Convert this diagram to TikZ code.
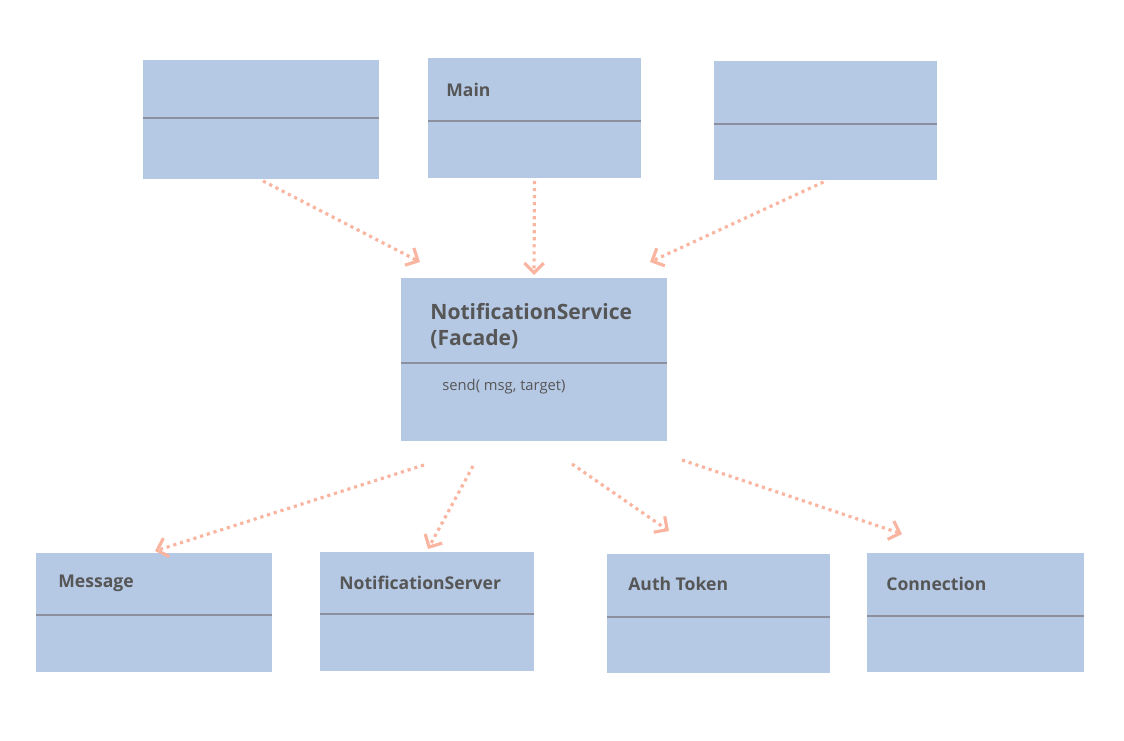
\documentclass[tikz,border=0pt]{standalone}
\usepackage{fontspec}
\setmainfont{Open Sans}
\usetikzlibrary{arrows.meta,calc}

\definecolor{classfill}{HTML}{B5C9E5}
\definecolor{classline}{HTML}{8B8F9E}
\definecolor{linkcolor}{HTML}{FAB5A1}
\definecolor{labelgray}{HTML}{565656}

% box with a divider line: name, x, y, width, height, divider
\newcommand{\classbox}[6]{%
  \node[classbody, minimum width=#4*0.02cm, minimum height=#5*0.02cm] (#1) at (#2,#3) {};
  \draw[classdivider] ($(#1.north west)+(0,#6)$) -- ($(#1.north east)+(0,#6)$);
}

\begin{document}
\begin{tikzpicture}[x=0.02cm, y=-0.02cm,
    classbody/.style={fill=classfill, draw=none, anchor=north west, inner sep=0, outer sep=0},
    classdivider/.style={draw=classline, line width=0.6pt},
    classtitle/.style={anchor=west, inner sep=0, text=labelgray, font=\bfseries\fontsize{10pt}{12pt}\selectfont},
    classop/.style={anchor=west, inner sep=0, text=labelgray, font=\fontsize{8.4pt}{10pt}\selectfont},
    link/.style={draw=linkcolor, line width=1.8pt, dash pattern=on 1.8pt off 2.2pt,
      -{Straight Barb[length=5.5pt, width=11pt]}}]
    \useasboundingbox (0,0) rectangle (1124,740);

    % clients
    \classbox{clientA}{143}{60}{236}{119}{58}
    \classbox{main}{428}{58}{213}{120}{63}
    \classbox{clientB}{714}{61}{223}{119}{63}
    \node[classtitle] (main-title) at (446,90) {Main};

    % facade
    \classbox{facade}{401}{278}{266}{163}{85}
    \node[classtitle, align=left, font=\bfseries\fontsize{12pt}{14.7pt}\selectfont] (facade-title) at (430,326)
      {NotificationService\\(Facade)};
    \node[classop] (facade-op) at (442,387) {send( msg, target)};

    % subsystem
    \classbox{message}{36}{553}{236}{119}{62}
    \classbox{server}{320}{552}{214}{119}{62}
    \classbox{token}{607}{554}{223}{119}{63}
    \classbox{connection}{867}{553}{217}{119}{63}
    \node[classtitle] (message-title) at (58,583) {Message};
    \node[classtitle] (server-title) at (339,583) {NotificationServer};
    \node[classtitle] (token-title) at (628,584) {Auth Token};
    \node[classtitle] (connection-title) at (886,584) {Connection};

    % dependencies
    \draw[link] ($(clientA.south)+(2,2)$) -- ($(facade.north west)+(19,-16)$);
    \draw[link] ($(main.south)+(0,3)$) -- ($(facade.north)+(0,-3)$);
    \draw[link] ($(clientB.south)+(-2,2)$) -- ($(facade.north east)+(-17,-16)$);
    \draw[link] ($(facade.south west)+(23,24)$) -- ($(message.north)+(1,-2)$);
    \draw[link] ($(facade.south west)+(72,25)$) -- ($(server.north)+(1,-3)$);
    \draw[link] ($(facade.south west)+(171,23)$) -- ($(token.north west)+(62,-23)$);
    \draw[link] ($(facade.south west)+(281,19)$) -- ($(connection.north west)+(35,-19)$);
\end{tikzpicture}
\end{document}
